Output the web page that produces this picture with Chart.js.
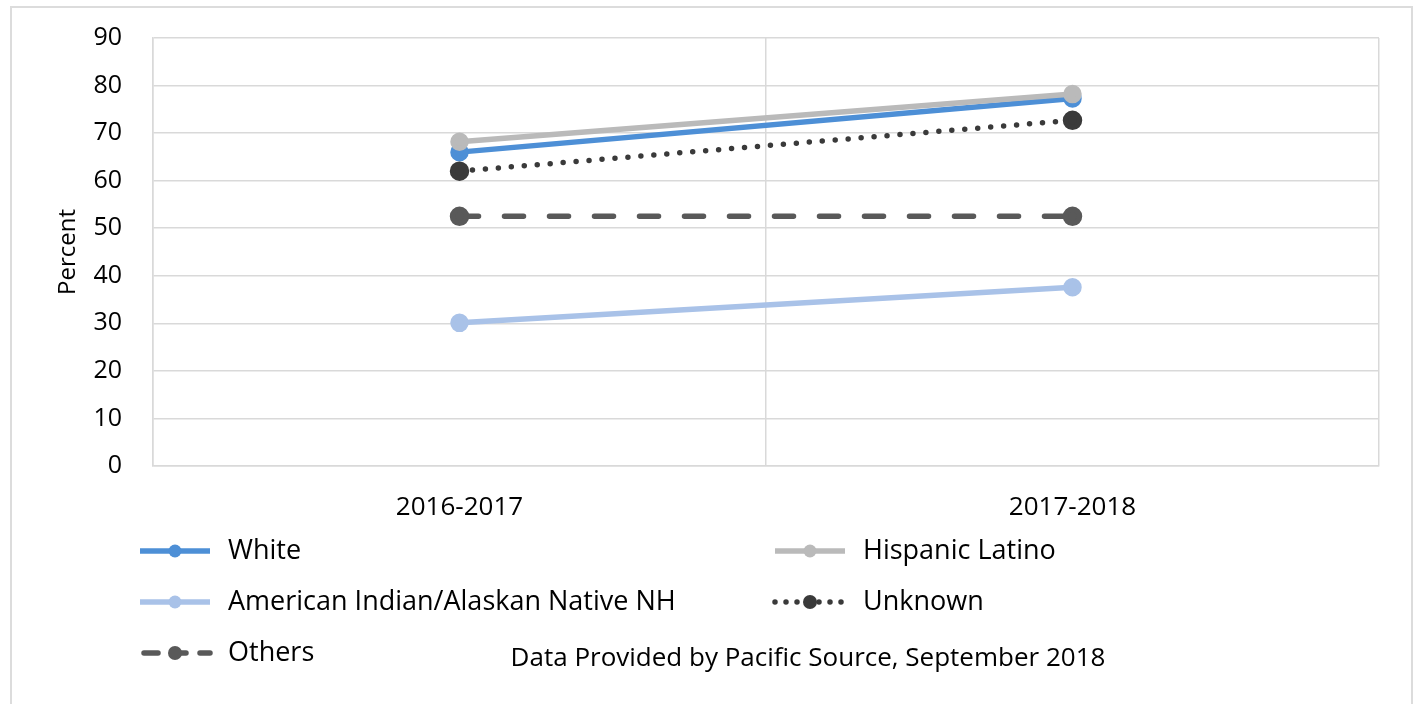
<!DOCTYPE html>
<html>
<head>
<meta charset="utf-8">
<title>Percent by group</title>
<script src="https://cdn.jsdelivr.net/npm/chart.js@4.4.0/dist/chart.umd.min.js"></script>
<style>
  html, body { margin: 0; padding: 0; background: #fff; overflow: hidden; }
  #wrap { position: relative; width: 1418px; height: 704px; }
  #frame {
    position: absolute; left: 10px; top: 6px; width: 1403px; height: 720px;
    border: 2px solid #dcdcdc; box-sizing: border-box;
  }
  #chart { position: absolute; left: 0; top: 0; }
</style>
</head>
<body>
<div id="wrap">
  <div id="frame"></div>
  <canvas id="chart" width="1418" height="704"></canvas>
</div>
<script>
"use strict";

// Data
const years = ["2016-2017", "2017-2018"];
const white = [66, 77.3];
const hispanicLatino = [68.2, 78.2];
const americanIndian = [30.1, 37.6];
const unknown = [62, 72.7];
const others = [52.5, 52.5];
const yMin = 0;
const yMax = 90;
const yStep = 10;
const footnote = "Data Provided by Pacific Source, September 2018";

const fontFamily = "'Open Sans', 'Noto Sans', sans-serif";

// where each legend entry sits (two columns, Excel-like)
const legendSpots = [
  { x: 140, y: 551 },
  { x: 775, y: 551 },
  { x: 140, y: 602 },
  { x: 775, y: 602 },
  { x: 140, y: 653 },
];

const customLegend = {
  id: "customLegend",
  afterDraw(chart) {
    const ctx = chart.ctx;
    chart.data.datasets.forEach((ds, i) => {
      const spot = legendSpots[i];
      ctx.save();
      ctx.strokeStyle = ds.borderColor;
      ctx.lineWidth = ds.borderWidth;
      ctx.lineCap = ds.borderCapStyle || "butt";
      ctx.setLineDash(ds.legendDash || []);
      ctx.beginPath();
      ctx.moveTo(spot.x + (ds.legendInset || 0), spot.y);
      ctx.lineTo(spot.x + 70, spot.y);
      ctx.stroke();
      ctx.setLineDash([]);
      ctx.fillStyle = ds.borderColor;
      ctx.beginPath();
      ctx.arc(spot.x + 35, spot.y, ds.pointRadius, 0, Math.PI * 2);
      ctx.fill();
      ctx.fillStyle = "#000";
      ctx.font = "27px " + fontFamily;
      ctx.textBaseline = "middle";
      ctx.fillText(ds.label, spot.x + 88, spot.y);
      ctx.restore();
    });
    ctx.save();
    ctx.fillStyle = "#000";
    ctx.font = "26px " + fontFamily;
    ctx.textAlign = "center";
    ctx.textBaseline = "middle";
    ctx.fillText(footnote, 808, 659);
    ctx.restore();
  },
};

const ctx = document.getElementById("chart").getContext("2d");

new Chart(ctx, {
  type: "line",
  data: {
    labels: years,
    datasets: [
      {
        label: "White",
        data: white,
        borderColor: "#4d8fd6",
        backgroundColor: "#4d8fd6",
        borderWidth: 5.5,
        pointRadius: 6.5,
        order: 2,
      },
      {
        label: "Hispanic Latino",
        data: hispanicLatino,
        borderColor: "#bababa",
        backgroundColor: "#bababa",
        borderWidth: 5.5,
        pointRadius: 6.5,
        order: 1,
      },
      {
        label: "American Indian/Alaskan Native NH",
        data: americanIndian,
        borderColor: "#a9c2e8",
        backgroundColor: "#a9c2e8",
        borderWidth: 5.5,
        pointRadius: 6.5,
        order: 3,
      },
      {
        label: "Unknown",
        data: unknown,
        borderColor: "#3a3a3a",
        backgroundColor: "#3a3a3a",
        borderWidth: 5.5,
        borderDash: [0, 13],
        legendDash: [0, 11],
        borderCapStyle: "round",
        pointRadius: 7,
        order: 0,
      },
      {
        label: "Others",
        data: others,
        borderColor: "#595959",
        backgroundColor: "#595959",
        borderWidth: 5.5,
        borderDash: [19, 26],
        legendDash: [14, 14],
        legendInset: 4,
        borderCapStyle: "round",
        pointRadius: 7,
        order: 4,
      },
    ],
  },
  options: {
    responsive: false,
    animation: false,
    layout: { padding: { top: 38, right: 39, left: 0, bottom: 0 } },
    elements: {
      line: { tension: 0 },
      point: { borderWidth: 0 },
    },
    plugins: {
      legend: { display: false },
      tooltip: { enabled: false },
    },
    scales: {
      x: {
        offset: true,
        grid: { offset: true, color: "#d9d9d9", lineWidth: 1.5, drawTicks: false },
        border: { color: "#d9d9d9", width: 1.5 },
        ticks: { padding: 26, color: "#000", font: { size: 26, family: fontFamily } },
        afterFit: (scale) => {
          scale.height = 238;
        },
      },
      y: {
        min: yMin,
        max: yMax,
        grid: { color: "#d9d9d9", lineWidth: 1.5, drawTicks: false },
        border: { color: "#d9d9d9", width: 1.5 },
        ticks: {
          stepSize: yStep,
          padding: 31,
          color: "#000",
          font: { size: 25, family: fontFamily },
        },
        title: {
          display: true,
          text: "Percent",
          color: "#000",
          padding: { top: 54 },
          font: { size: 24, family: fontFamily },
        },
        afterFit: (scale) => {
          scale.width = 153;
          // keep the plot top at the layout padding
          scale.paddingTop = 0;
          scale.paddingBottom = 0;
        },
      },
    },
  },
  plugins: [customLegend],
});
</script>
</body>
</html>
